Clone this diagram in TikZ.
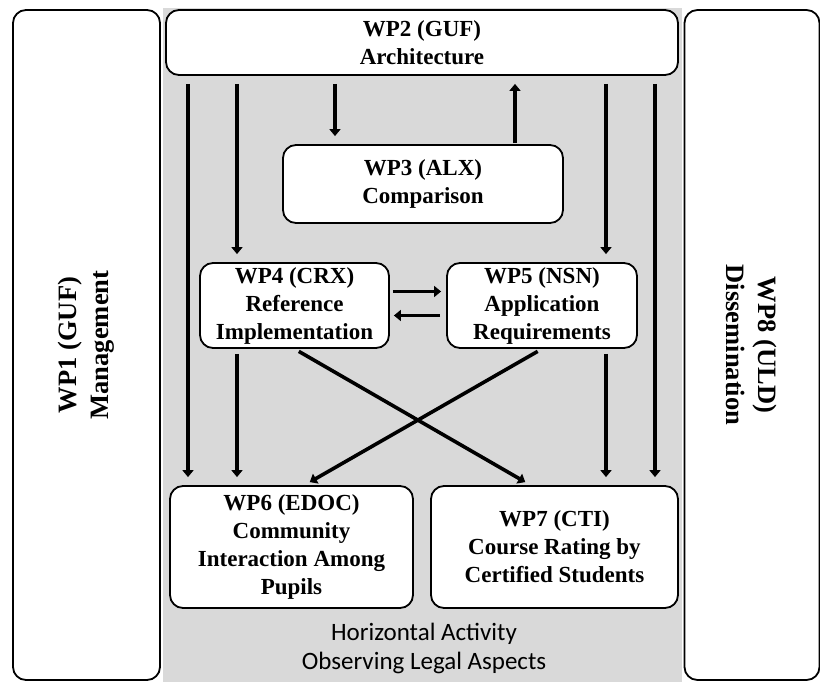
\documentclass[tikz,border=0pt]{standalone}
\usepackage{fontspec}
\setmainfont{Liberation Serif}
\newfontfamily\legalfont{Carlito}
\usetikzlibrary{arrows.meta,positioning}
\definecolor{actgray}{RGB}{217,217,217}

\begin{document}
\begin{tikzpicture}[x=1pt, y=-1pt, >={Triangle[length=7pt,width=11pt]},
      font=\fontsize{23}{28}\selectfont\bfseries,
      wp/.style={draw, line width=1.8pt, rounded corners=13pt, align=center,
                 fill=white, inner sep=0pt},
      sidewp/.style={wp, font=\fontsize{26.5}{32}\selectfont\bfseries},
      arr/.style={->, line width=3.6pt, shorten <=8pt, shorten >=8pt}
    ]
    \useasboundingbox (0,0) rectangle (820,682);
    % horizontal activity
    \fill[actgray] (163,8) rectangle (682,682);
    \node[font=\fontsize{25}{29}\selectfont\legalfont, align=center] (legal) at (424,648)
          {Horizontal Activity\\Observing Legal Aspects};

    \node[sidewp, rotate=90, minimum width=670pt, minimum height=147pt] (wp1) at (86.5,345)
          {WP1 (GUF)\\Management};
    \node[sidewp, rotate=-90, minimum width=670pt, minimum height=135pt] (wp8) at (752,345)
          {WP8 (ULD)\\Dissemination};

    \node[wp, minimum width=512pt, minimum height=65pt] (wp2) at (422,42.5)
          {WP2 (GUF)\\Architecture};
    \node[wp, minimum width=280pt, minimum height=78pt] (wp3) at (423,184)
          {WP3 (ALX)\\Comparison};
    \node[wp, minimum width=189pt, minimum height=85pt] (wp4) at (294.5,305.5)
          {WP4 (CRX)\\Reference\\Implementation};
    \node[wp, minimum width=190pt, minimum height=85pt] (wp5) at (542,305.5)
          {WP5 (NSN)\\Application\\Requirements};
    \node[wp, minimum width=243pt, minimum height=122pt] (wp6) at (291.5,547)
          {WP6 (EDOC)\\Community\\Interaction Among\\Pupils};
    \node[wp, minimum width=247pt, minimum height=122pt] (wp7) at (554.5,547)
          {WP7 (CTI)\\Course Rating by\\Certified Students};

    % lanes
    \foreach \n/\x in {a/188, b/237, c/335, d/515, e/606, f/655}{
      \coordinate (lane\n) at (\x,0);
    }

    \foreach \l/\t in {a/wp6, b/wp4, c/wp3, e/wp5, f/wp7}{
      \draw[arr] (wp2.south -| lane\l) -- (\t.north -| lane\l);
    }
    \draw[arr, shorten <=1pt] (wp3.north -| laned) -- (wp2.south -| laned);

    \draw[arr, shorten <=5pt] (wp4.south -| laneb) -- (wp6.north -| laneb);
    \draw[arr, shorten <=5pt] (wp5.south -| lanee) -- (wp7.north -| lanee);

    \draw[arr, shorten <=5pt, shorten >=6pt] (wp4.south)
          -- ([xshift=-24pt]wp7.north);
    \draw[arr, shorten <=5pt, shorten >=6pt] (wp5.south)
          -- ([xshift=13pt]wp6.north);

    \draw[arr, shorten <=3pt, shorten >=5pt] ([yshift=14pt]wp4.east)
          -- ([yshift=14pt]wp5.west);
    \draw[arr, shorten <=6pt, shorten >=4pt] ([yshift=-10pt]wp5.west)
          -- ([yshift=-10pt]wp4.east);
  \end{tikzpicture}
\end{document}
